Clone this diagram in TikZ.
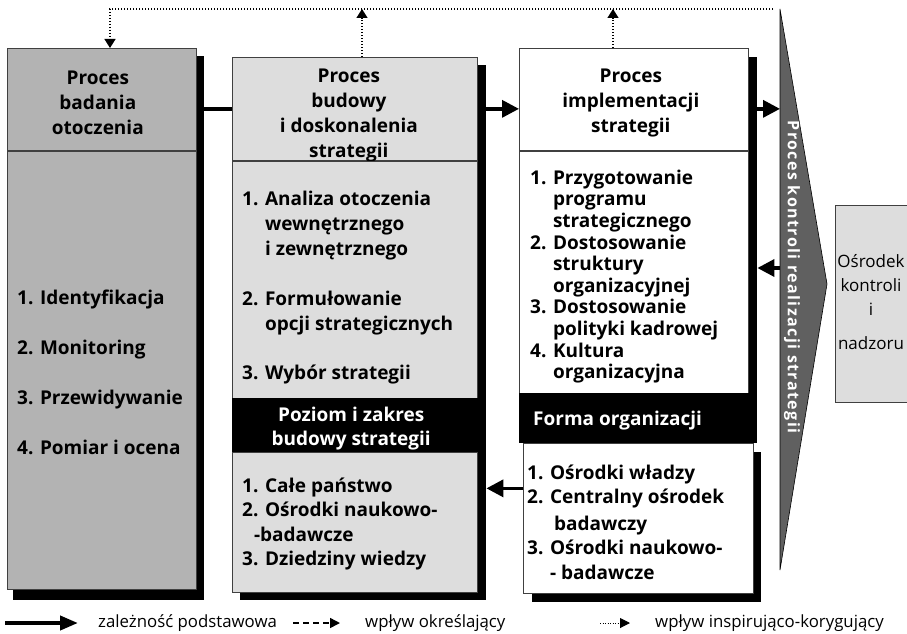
\documentclass[tikz,border=0pt]{standalone}
\usepackage{fontspec}
\setmainfont{Open Sans}
\usetikzlibrary{arrows.meta,positioning}
\definecolor{szary}{HTML}{B3B3B3}
\definecolor{jasny}{HTML}{DDDDDD}
\definecolor{ciemny}{HTML}{606060}
\tikzset{
  % pola procesow
  pole/.style={draw=black!75,line width=0.7pt,anchor=north west,inner sep=0pt},
  cien/.style={fill=black,anchor=north west,inner sep=0pt},
  pasek/.style={fill=black,anchor=north west,inner sep=0pt},
  napis/.style={text=white,inner sep=0pt,font=\bfseries\fontsize{19}{24}\selectfont},
  tytul/.style={align=center,inner sep=0pt,font=\bfseries\fontsize{19}{25}\selectfont},
  lista/.style={anchor=north west,inner sep=0pt,align=left,
    font=\bfseries\fontsize{19}{25}\selectfont},
  legenda/.style={inner sep=0pt,font=\fontsize{16.8}{17}\selectfont},
  % strzalki
  glowna/.style={line width=3.5pt,-{Triangle[length=17pt,width=17pt]}},
  kropki/.style={line width=1.3pt,dash pattern=on 1.3pt off 1.7pt,
    -{Triangle[length=9pt,width=11pt]}},
}

\begin{document}
\begin{tikzpicture}[x=1pt,y=-1pt]
\useasboundingbox (0,0) rectangle (907,634);
% cienie
\node[cien,minimum width=191pt,minimum height=544pt] (badS) at (13,56) {};
\node[cien,minimum width=246pt,minimum height=535pt] (budS) at (240,65) {};
\node[cien,minimum width=230pt,minimum height=386pt] (implS) at (527,57) {};
\node[cien,minimum width=229pt,minimum height=150pt] (formS) at (532,452) {};

% badanie otoczenia
\node[pole,fill=szary,minimum width=189pt,minimum height=102pt] (bad) at (7,48) {};
\node[tytul] (badN) at ([xshift=-4pt,yshift=-3pt]bad.center) {Proces\\badania\\otoczenia};
\node[pole,fill=szary,minimum width=189pt,minimum height=438pt] (badB) at (bad.south west) {};
\node[lista,font=\bfseries\fontsize{19}{50}\selectfont] (badT) at (17,290)
  {1. Identyfikacja\\2. Monitoring\\3. Przewidywanie\\4. Pomiar i ocena};

% budowa strategii
\node[pole,fill=jasny,minimum width=245pt,minimum height=103pt] (bud) at (232,57) {};
\node[tytul] (budN) at ([xshift=-6pt,yshift=-7pt]bud.center) {Proces\\budowy\\i doskonalenia\\strategii};
\node[pole,fill=jasny,minimum width=245pt,minimum height=238pt] (budB) at (bud.south west) {};
\node[lista] (budT) at (242,188) {\begin{tabular}{@{}l@{ }l@{}}
  1.&Analiza otoczenia\\&wewnętrznego\\&i zewnętrznego\\[25pt]
  2.&Formułowanie\\&opcji strategicznych\\[24pt]
  3.&Wybór strategii\end{tabular}};
\node[pasek,minimum width=254pt,minimum height=54pt] (poziom) at (232,398) {};
\node[napis,align=center] (poziomN) at ([xshift=-8pt,yshift=-3pt]poziom.center) {Poziom i zakres\\budowy strategii};
\node[pole,fill=jasny,minimum width=245pt,minimum height=140pt] (bud3) at (poziom.south west) {};
\node[lista,font=\bfseries\fontsize{19}{24.5}\selectfont] (bud3T) at (242,475) {\begin{tabular}{@{}l@{ }l@{}}
  1.&Całe państwo\\2.&Ośrodki naukowo-\\&\hspace{-11pt}-badawcze\\3.&Dziedziny wiedzy\end{tabular}};

% implementacja strategii
\node[pole,fill=white,minimum width=229pt,minimum height=102pt] (impl) at (519,48) {};
\node[tytul] (implN) at ([xshift=-3pt,yshift=-4pt]impl.center) {Proces\\implementacji\\strategii};
\node[pole,fill=white,minimum width=229pt,minimum height=243pt] (implB) at (impl.south west) {};
\node[lista,font=\bfseries\fontsize{19}{21.6}\selectfont] (implT) at (530,169) {\begin{tabular}{@{}l@{ }l@{}}
  1.&Przygotowanie\\&programu\\&strategicznego\\
  2.&Dostosowanie\\&struktury\\&organizacyjnej\\
  3.&Dostosowanie\\&polityki kadrowej\\
  4.&Kultura\\&organizacyjna\end{tabular}};
\node[pasek,minimum width=238pt,minimum height=50pt] (forma) at (519,393) {};
\node[napis,anchor=west] (formaN) at ([xshift=14pt,yshift=-2pt]forma.west) {Forma organizacji};
\node[pole,fill=white,minimum width=230pt,minimum height=150pt] (form) at (523,443) {};
\node[lista,font=\bfseries\fontsize{19}{24.5}\selectfont] (formT) at (527,462) {\begin{tabular}{@{}l@{ }l@{}}
  1.&Ośrodki władzy\\2.&Centralny ośrodek\\[2pt]&\hspace{4pt}badawczy\\
  3.&Ośrodki naukowo-\\&- badawcze\end{tabular}};

% kontrola realizacji
\coordinate (kt) at (780,9);
\coordinate (kp) at (827,284);
\coordinate (kd) at (780,570);
\filldraw[fill=ciemny,draw=black,line width=0.6pt] (kt) -- (kp) -- (kd) -- cycle;
\node[rotate=-90,text=white,font=\bfseries\fontsize{16}{16}\selectfont\addfontfeature{LetterSpace=9}] (kontrola) at (792,277) {Proces kontroli realizacji strategii};

\node[pole,fill=jasny,minimum width=80pt,minimum height=197pt] (osr) at (835,205) {};
\node[align=center,anchor=north,inner sep=0pt,font=\fontsize{17}{24}\selectfont] (osrT) at (871,254) {Ośrodek\\kontroli\\i\\[10pt]nadzoru};

% polaczenia
\draw[line width=3.5pt] (badS.east |- bud.west) -- (bud.west);
\draw[glowna] (budS.east |- bud.east) -- (impl.west |- bud.east);
\draw[glowna] (implS.east |- bud.east) -- (kt |- bud.east);
\coordinate (k2) at (780,268);
\draw[glowna] (k2) -- (k2 -| implS.east);
\coordinate (f1) at ([yshift=30pt]form.west);
\draw[glowna] (f1) -- (f1 -| budS.east);

\coordinate (g1) at (110,9);
\coordinate (g2) at (362,9);
\coordinate (g3) at (613,9);
\coordinate (g4) at (773,9);
\draw[kropki] (g4) -- (g1) -- (g1 |- bad.north);
\draw[kropki] (g2 |- bud.north) -- (g2);
\draw[kropki] (g3 |- impl.north) -- (g3);

% legenda
\coordinate (l1) at (5,623);
\coordinate (l1e) at (78,623);
\draw[line width=4pt,-{Triangle[length=18pt,width=14pt]}] (l1) -- (l1e);
\node[legenda,right=20pt of l1e] (t1) {zależność podstawowa};
\coordinate (l2) at (293,623);
\coordinate (l2e) at (340,623);
\draw[line width=1.5pt,dash pattern=on 6pt off 4pt,-{Triangle[length=10pt,width=10pt]}] (l2) -- (l2e);
\node[legenda,right=25pt of l2e] (t2) {wpływ określający};
\coordinate (l3) at (600,623);
\coordinate (l3e) at (630,623);
\draw[kropki,line width=1pt,dash pattern=on 1pt off 1.5pt,-{Triangle[length=10pt,width=10pt]}] (l3) -- (l3e);
\node[legenda,right=25pt of l3e] (t3) {wpływ inspirująco-korygujący};
\end{tikzpicture}
\end{document}
